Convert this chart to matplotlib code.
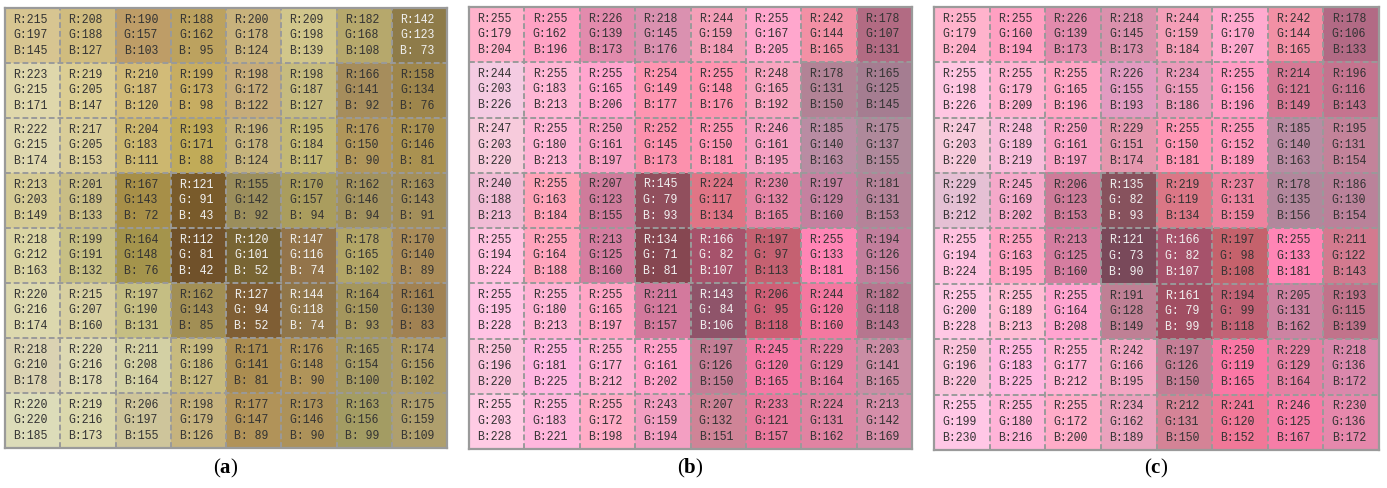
import numpy as np
import matplotlib
matplotlib.use("Agg")
import matplotlib.pyplot as plt

plt.rcParams['mathtext.fontset'] = 'custom'
plt.rcParams['mathtext.rm'] = 'Liberation Serif'
plt.rcParams['mathtext.bf'] = 'Liberation Serif:bold'

# ---------------- data ----------------
a_R = [[215,208,190,188,200,209,182,142],
       [223,219,210,199,198,198,166,158],
       [222,217,204,193,196,195,176,170],
       [213,201,167,121,155,170,162,163],
       [218,199,164,112,120,147,178,170],
       [220,215,197,162,127,144,164,161],
       [218,220,211,199,171,176,165,174],
       [220,219,206,198,177,173,163,175]]
a_G = [[197,188,157,162,178,198,168,123],
       [215,205,187,173,172,187,141,134],
       [215,205,183,171,178,184,150,146],
       [203,189,143, 91,142,157,146,143],
       [212,191,148, 81,101,116,165,140],
       [216,207,190,143, 94,118,150,130],
       [210,216,208,186,141,148,154,156],
       [220,216,197,179,147,146,156,159]]
a_B = [[145,127,103, 95,124,139,108, 73],
       [171,147,120, 98,122,127, 92, 76],
       [174,153,111, 88,124,117, 90, 81],
       [149,133, 72, 43, 92, 94, 94, 91],
       [163,132, 76, 42, 52, 74,102, 89],
       [174,160,131, 85, 52, 74, 93, 83],
       [178,178,164,127, 81, 90,100,102],
       [185,173,155,126, 89, 90, 99,109]]

b_R = [[255,255,226,218,244,255,242,178],
       [244,255,255,254,255,248,178,165],
       [247,255,250,252,255,246,185,175],
       [240,255,207,145,224,230,197,181],
       [255,255,213,134,166,197,255,194],
       [255,255,255,211,143,206,244,182],
       [250,255,255,255,197,245,229,203],
       [255,255,255,243,207,233,224,213]]
b_G = [[179,162,139,145,159,167,144,107],
       [203,183,165,149,148,165,131,125],
       [203,180,161,145,150,161,140,137],
       [188,163,123, 79,117,132,129,131],
       [194,164,125, 71, 82, 97,133,126],
       [195,180,165,121, 84, 95,120,118],
       [196,181,177,161,126,120,129,141],
       [203,183,172,159,132,121,131,142]]
b_B = [[204,196,173,176,184,205,165,131],
       [226,213,206,177,176,192,150,145],
       [220,213,197,173,181,195,163,155],
       [213,184,155, 93,134,165,160,153],
       [224,188,160, 81,107,113,181,156],
       [228,213,197,157,106,118,160,143],
       [220,225,212,202,150,165,164,165],
       [228,221,198,194,151,157,162,169]]

c_R = [[255,255,226,218,244,255,242,178],
       [255,255,255,226,234,255,214,196],
       [247,248,250,229,255,255,185,195],
       [229,245,206,135,219,237,178,186],
       [255,255,213,121,166,197,255,211],
       [255,255,255,191,161,194,205,193],
       [250,255,255,242,197,250,229,218],
       [255,255,255,234,212,241,246,230]]
c_G = [[179,160,139,145,159,170,144,106],
       [198,179,165,155,155,156,121,116],
       [203,189,161,151,150,152,140,131],
       [192,169,123, 82,119,131,135,130],
       [194,163,125, 73, 82, 98,133,122],
       [200,189,164,128, 79, 99,131,115],
       [196,183,177,166,126,119,129,136],
       [199,180,172,162,131,120,125,136]]
c_B = [[204,194,173,173,184,207,165,133],
       [226,209,196,193,186,196,149,143],
       [220,219,197,174,181,189,163,154],
       [212,202,153, 93,134,159,156,154],
       [224,195,160, 90,107,108,181,143],
       [228,213,208,149, 99,118,162,139],
       [220,225,212,195,150,165,164,172],
       [230,216,200,189,150,152,167,172]]

panel_labels = ['a', 'b', 'c']

# ---------------- layout ----------------
W, H = 1387, 488
fig = plt.figure(figsize=(W / 100, H / 100), dpi=100)
boxes = [(5, 8, 447, 448), (469, 7, 912, 449), (934, 7, 1379, 450)]
panels = [(a_R, a_G, a_B), (b_R, b_G, b_B), (c_R, c_G, c_B)]

for (x0, y0, x1, y1), (R, G, B), lab in zip(boxes, panels, panel_labels):
    ax = fig.add_axes([x0 / W, 1 - y1 / H, (x1 - x0) / W, (y1 - y0) / H])
    R = np.array(R); G = np.array(G); B = np.array(B)
    img = np.stack([R, G, B], axis=-1) / 255.0
    ax.imshow(img, extent=(0, 8, 8, 0), aspect='auto', interpolation='nearest')
    ax.set_xlim(0, 8)
    ax.set_ylim(8, 0)
    ax.set_xticks([]); ax.set_yticks([])
    for k in range(1, 8):
        ax.axhline(k, color='#9a9a9a', lw=1.4, ls=(0, (3, 1.5)))
        ax.axvline(k, color='#9a9a9a', lw=1.4, ls=(0, (3, 1.5)))
    for s in ax.spines.values():
        s.set_color('#9a9a9a')
        s.set_linewidth(1.6)
    for i in range(8):
        for j in range(8):
            r, g, b = R[i, j], G[i, j], B[i, j]
            lum = 0.299 * r + 0.587 * g + 0.114 * b
            col = '#f2f2f2' if lum < 125 else '#333333'
            for t, (name, v) in zip((0.21, 0.49, 0.78), (('R', r), ('G', g), ('B', b))):
                ax.text(j + 0.15, i + t, f"{name}:{v:3d}", color=col,
                        fontsize=8.3, family='Liberation Mono',
                        ha='left', va='center')
    cx = (x0 + x1) / 2
    fig.text(cx / W, 1 - 468 / H, r'$(\mathbf{' + lab + r'})$',
             ha='center', va='center', fontsize=15)

fig.savefig('out.png', dpi=100)
